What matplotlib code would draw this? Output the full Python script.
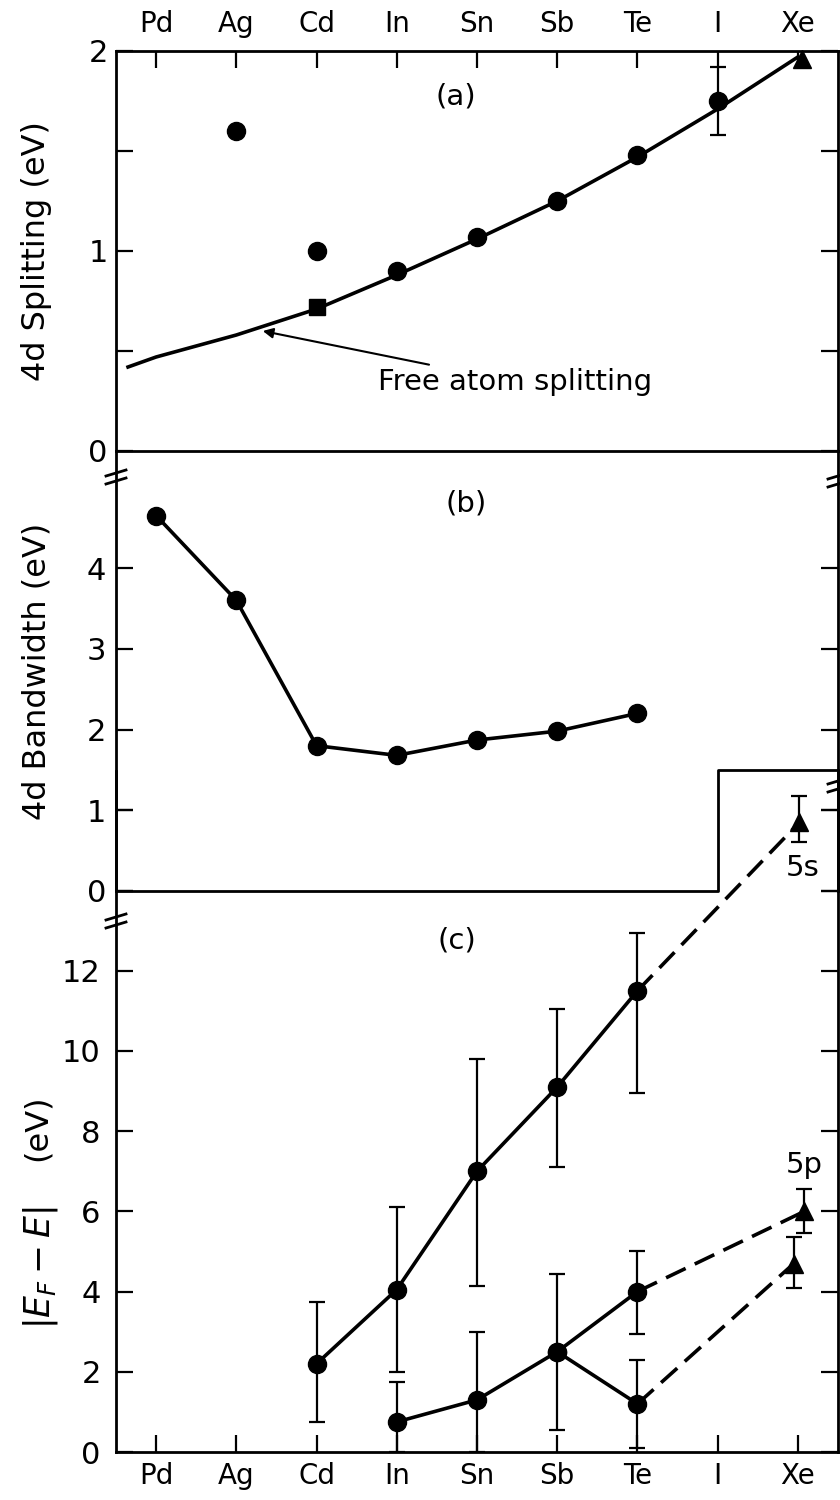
import numpy as np
import matplotlib
matplotlib.use('Agg')
import matplotlib.pyplot as plt
from matplotlib.lines import Line2D

plt.rcParams['font.family'] = ['DejaVu Sans']

elements = ['Pd', 'Ag', 'Cd', 'In', 'Sn', 'Sb', 'Te', 'I', 'Xe']

# (a) 4d spin-orbit splitting
split_x = [1, 2, 3, 4, 5, 6, 7]
split_y = [1.6, 1.0, 0.9, 1.07, 1.25, 1.48, 1.75]
split_lo = [1.6, 1.0, 0.9, 1.07, 1.25, 1.48, 1.58]
split_hi = [1.6, 1.0, 0.9, 1.07, 1.25, 1.48, 1.92]
cd_square_x, cd_square_y = [2], [0.72]
xe_a_x, xe_a_y = [8.05], [1.96]
free_x = [-0.35, 0, 1, 2, 3, 4, 5, 6, 7, 8]
free_y = [0.42, 0.47, 0.58, 0.71, 0.88, 1.06, 1.25, 1.47, 1.71, 1.97]

# (b) 4d bandwidth
bw_x = [0, 1, 2, 3, 4, 5, 6]
bw_y = [4.65, 3.6, 1.8, 1.68, 1.87, 1.98, 2.2]

# (c) |E_F - E|
up_x = [2, 3, 4, 5, 6]
up_y = [2.2, 4.05, 7.0, 9.1, 11.5]
up_lo = [0.75, 2.0, 4.15, 7.1, 8.95]
up_hi = [3.75, 6.1, 9.8, 11.05, 12.95]

low_x = [3, 4, 5, 6, 6]
low_y = [0.75, 1.3, 2.5, 4.0, 1.2]
low_lo = [0.0, 0.0, 0.55, 2.95, 0.1]
low_hi = [1.75, 3.0, 4.45, 5.0, 2.3]

xe_5p_x = [8.08, 7.95]
xe_5p_y = [6.0, 4.7]
xe_5p_lo = [5.45, 4.1]
xe_5p_hi = [6.55, 5.35]

xe_5s_x, xe_5s_y = [8.02], [15.7]
xe_5s_lo, xe_5s_hi = [15.2], [16.35]

W, H = 840, 1500
L, R = 116, 838


def rect(top, bottom):
    return [L / W, 1 - bottom / H, (R - L) / W, (bottom - top) / H]


def style(ax, pad):
    ax.set_xlim(-0.5, 8.5)
    ax.patch.set_visible(False)
    for s in ax.spines.values():
        s.set_linewidth(2.0)
    ax.tick_params(axis='both', direction='in', length=12, width=1.6,
                   labelsize=22, pad=pad)
    ax.tick_params(axis='y', left=True, right=True)


fig = plt.figure(figsize=(W / 100, H / 100), dpi=100)

axc = fig.add_axes(rect(771, 1452))
axb = fig.add_axes(rect(451, 891))
axa = fig.add_axes(rect(51, 451))

lw = 2.6
ms = 13
eb = dict(fmt='none', ecolor='k', elinewidth=1.6, capsize=6, capthick=1.6)

# ---- panel (a)
style(axa, 6)
axa.set_ylim(0, 2)
axa.set_yticks([0, 0.5, 1, 1.5, 2])
axa.set_yticklabels(['0', '', '1', '', '2'])
axa.set_xticks(range(len(elements)))
axa.set_xticklabels(elements, fontsize=20)
axa.tick_params(axis='x', top=True, bottom=False, labeltop=True,
                labelbottom=False, pad=9)
axa.plot(free_x, free_y, color='k', lw=lw)
axa.plot(split_x, split_y, 'o', color='k', ms=ms)
axa.errorbar(split_x, split_y,
             yerr=[np.subtract(split_y, split_lo), np.subtract(split_hi, split_y)],
             **eb)
axa.plot(cd_square_x, cd_square_y, 's', color='k', ms=12)
axa.plot(xe_a_x, xe_a_y, '^', color='k', ms=ms, clip_on=False)
axa.annotate('Free atom splitting', xy=(1.33, 0.6), xytext=(2.76, 0.345),
             fontsize=21, va='center', ha='left',
             arrowprops=dict(arrowstyle='-|>', color='k', lw=1.5,
                             shrinkA=2, shrinkB=0, mutation_scale=15))
axa.text(3.73, 1.77, '(a)', fontsize=21, ha='center', va='center')

# ---- panel (b)
style(axb, 7)
axb.set_ylim(0, 5.45)
axb.set_yticks([0, 1, 2, 3, 4])
axb.set_xticks([])
axb.spines['top'].set_visible(False)
axb.spines['bottom'].set_visible(False)
axb.plot(bw_x, bw_y, 'o-', color='k', lw=lw, ms=ms)
axb.plot([-0.5, 7, 7, 8.5], [0, 0, 1.5, 1.5], color='k', lw=2.0,
         clip_on=False)
axb.text(3.87, 4.8, '(b)', fontsize=21, ha='center', va='center')

# ---- panel (c)
style(axc, 11)
axc.set_ylim(0, 16.98)
axc.set_yticks(range(0, 17, 2))
axc.set_yticklabels(['0', '2', '4', '6', '8', '10', '12', '', ''])
axc.spines['top'].set_visible(False)
axc.set_xticks(range(len(elements)))
axc.set_xticklabels(elements, fontsize=20)
axc.tick_params(axis='x', top=False, bottom=True, pad=7)

axc.plot(up_x, up_y, 'o-', color='k', lw=lw, ms=ms)
axc.errorbar(up_x, up_y,
             yerr=[np.subtract(up_y, up_lo), np.subtract(up_hi, up_y)], **eb)
axc.plot(low_x[:4], low_y[:4], 'o-', color='k', lw=lw, ms=ms)
axc.plot([low_x[2], low_x[4]], [low_y[2], low_y[4]], 'o-', color='k',
         lw=lw, ms=ms)
axc.errorbar(low_x, low_y,
             yerr=[np.subtract(low_y, low_lo), np.subtract(low_hi, low_y)],
             **eb)

dash = dict(color='k', lw=lw, dashes=(6, 2.8))
axc.plot([low_x[3], xe_5p_x[0]], [low_y[3], xe_5p_y[0]], **dash)
axc.plot([low_x[4], xe_5p_x[1]], [low_y[4], xe_5p_y[1]], **dash)
axc.plot([up_x[-1], xe_5s_x[0]], [up_y[-1], xe_5s_y[0]], **dash)

axc.plot(xe_5p_x, xe_5p_y, '^', color='k', ms=ms)
axc.errorbar(xe_5p_x, xe_5p_y,
             yerr=[np.subtract(xe_5p_y, xe_5p_lo),
                   np.subtract(xe_5p_hi, xe_5p_y)], **eb)
axc.plot(xe_5s_x, xe_5s_y, '^', color='k', ms=ms)
axc.errorbar(xe_5s_x, xe_5s_y,
             yerr=[np.subtract(xe_5s_y, xe_5s_lo),
                   np.subtract(xe_5s_hi, xe_5s_y)], **eb)

axc.text(8.08, 7.15, '5p', fontsize=21, ha='center', va='center')
axc.text(8.06, 14.56, '5s', fontsize=21, ha='center', va='center')
axc.text(3.75, 12.75, '(c)', fontsize=21, ha='center', va='center')

# axis labels
fig.text(37 / W, 1 - 251 / H, '4d Splitting (eV)', rotation=90,
         fontsize=23, ha='center', va='center')
fig.text(37 / W, 1 - 671 / H, '4d Bandwidth (eV)', rotation=90,
         fontsize=23, ha='center', va='center')
fig.text(37 / W, 1 - 1128 / H, '(eV)', rotation=90,
         fontsize=23, ha='center', va='center')
fig.text(40 / W, 1 - 1268 / H, r'$|E_F-E|$', rotation=90,
         fontsize=25, ha='center', va='center')


# axis break marks
def brk(xp, yp):
    for dy in (-4, 4):
        fig.add_artist(Line2D([(xp - 10) / W, (xp + 10) / W],
                              [1 - (yp + dy + 3) / H, 1 - (yp + dy - 3) / H],
                              color='k', lw=2.0))


brk(116, 477)
brk(116, 921)
brk(838, 480)
brk(838, 785)

fig.savefig('out.png', dpi=100)
